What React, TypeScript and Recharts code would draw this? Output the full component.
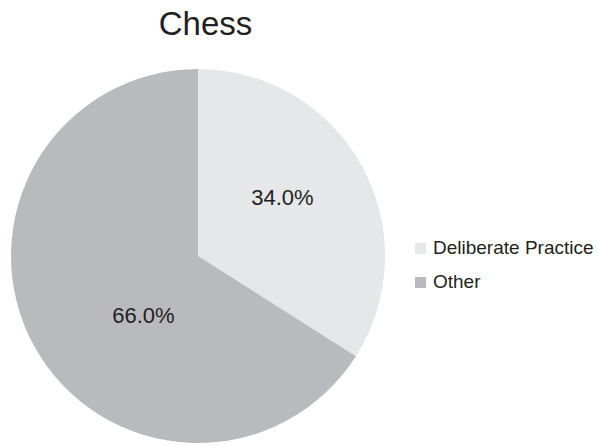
import { PieChart, Pie, Cell, Legend } from "recharts";

const categories = ["Deliberate Practice", "Other"];
const shares = [34.0, 66.0];
const sliceColors = ["#e6e7e9", "#b9babe"];

const data = categories.map((name, i) => ({ name, value: shares[i] }));

// small nudges so labels sit where the original put them
const labelTweak = [
  { angle: 6, frac: 0.55 },
  { angle: 18.7, frac: 0.432 },
];

const FONT = "'Liberation Sans', Arial, sans-serif";
const INK = "#231f20";
const RAD = Math.PI / 180;

const renderLabel = (props: any) => {
  const { cx, cy, midAngle, outerRadius, index, value } = props;
  const t = labelTweak[index] ?? { angle: 0, frac: 0.5 };
  const a = (midAngle + t.angle) * RAD;
  const r = outerRadius * t.frac;
  const x = cx + r * Math.cos(a);
  const y = cy - r * Math.sin(a);
  return (
    <text
      x={x}
      y={y}
      textAnchor="middle"
      dominantBaseline="central"
      fill={INK}
      fontSize={22}
      fontFamily={FONT}
    >
      {`${Number(value).toFixed(1)}%`}
    </text>
  );
};

const renderLegend = (props: any) => {
  const { payload } = props;
  return (
    <div style={{ fontFamily: FONT, color: INK, fontSize: 19 }}>
      {(payload ?? []).map((entry: any, i: number) => (
        <div
          key={i}
          style={{ display: "flex", alignItems: "center", height: 34 }}
        >
          <span
            style={{
              display: "inline-block",
              width: 11,
              height: 11,
              background: sliceColors[categories.indexOf(entry.value)],
              marginRight: 7,
            }}
          />
          <span>{entry.value}</span>
        </div>
      ))}
    </div>
  );
};

export default function App() {
  return (
    <div style={{ position: "absolute", left: 0, top: 0, width: 597, height: 446, background: "#fff" }}>
      <div
        style={{
          position: "absolute",
          left: 0,
          width: 411,
          top: 4,
          textAlign: "center",
          fontFamily: FONT,
          fontSize: 33,
          color: INK,
          lineHeight: "40px",
        }}
      >
        Chess
      </div>
      <PieChart width={597} height={446} margin={{ top: 0, right: 0, bottom: 0, left: 0 }}>
        <Pie
          data={data}
          dataKey="value"
          nameKey="name"
          cx={198}
          cy={256}
          outerRadius={187}
          startAngle={90}
          endAngle={-270}
          stroke="none"
          label={renderLabel}
          labelLine={false}
          isAnimationActive={false}
        >
          {data.map((d, i) => (
            <Cell key={d.name} fill={sliceColors[i]} />
          ))}
        </Pie>
        <Legend
          layout="vertical"
          content={renderLegend}
          wrapperStyle={{ left: 415, top: 231, width: 182 }}
        />
      </PieChart>
    </div>
  );
}
